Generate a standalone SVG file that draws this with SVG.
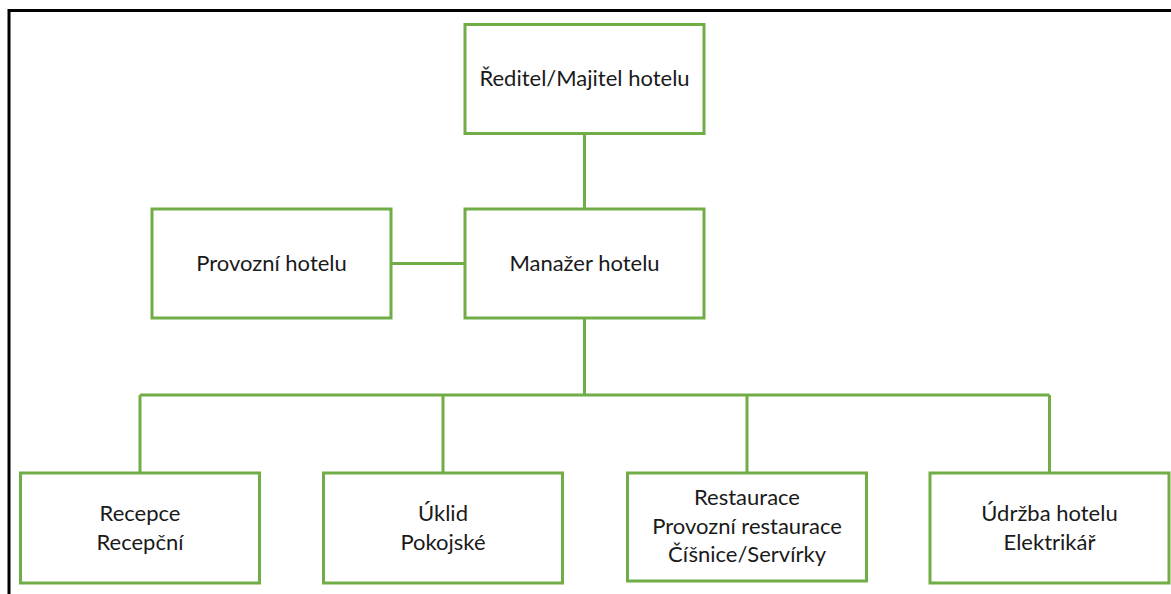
<svg xmlns="http://www.w3.org/2000/svg" width="1171" height="594" viewBox="0 0 1171 594">
<style>
.box{fill:#fff;stroke:#70AD47;stroke-width:3}
.conn{fill:none;stroke:#70AD47;stroke-width:3}
.t{font-family:Lato,"Liberation Sans",Arial,sans-serif;font-size:22px;fill:#1a1a1a;text-anchor:middle}
</style>
<rect x="0" y="0" width="1171" height="594" fill="#fff"/>
<path d="M9 594 V10.5 H1171" fill="none" stroke="#000" stroke-width="3"/>
<g id="connectors">
<path class="conn" d="M584.5 133 V209"/>
<path class="conn" d="M391 263.5 H464"/>
<path class="conn" d="M584.5 318 V395"/>
<path class="conn" d="M140 395 H1049.5"/>
<path class="conn" d="M140 395 V473"/>
<path class="conn" d="M443 395 V473"/>
<path class="conn" d="M747 395 V473"/>
<path class="conn" d="M1049.5 395 V473"/>
</g>
<g id="node-reditel">
<rect class="box" x="465" y="24.5" width="239" height="109"/>
<text class="t" x="584.5" y="86">Ředitel/Majitel hotelu</text>
</g>
<g id="node-provozni">
<rect class="box" x="152" y="209" width="239" height="109"/>
<text class="t" x="271.5" y="271">Provozní hotelu</text>
</g>
<g id="node-manazer">
<rect class="box" x="465" y="209" width="239" height="109"/>
<text class="t" x="584.5" y="271">Manažer hotelu</text>
</g>
<g id="node-recepce">
<rect class="box" x="20.5" y="473" width="239" height="110"/>
<text class="t" x="140" y="521">Recepce</text>
<text class="t" x="140" y="550">Recepční</text>
</g>
<g id="node-uklid">
<rect class="box" x="323.5" y="473" width="239" height="110"/>
<text class="t" x="443" y="521">Úklid</text>
<text class="t" x="443" y="550">Pokojské</text>
</g>
<g id="node-restaurace">
<rect class="box" x="627.5" y="473" width="239" height="108"/>
<text class="t" x="747" y="505">Restaurace</text>
<text class="t" x="747" y="534">Provozní restaurace</text>
<text class="t" x="747" y="562">Číšnice/Servírky</text>
</g>
<g id="node-udrzba">
<rect class="box" x="930" y="473" width="239" height="110"/>
<text class="t" x="1049.5" y="521">Údržba hotelu</text>
<text class="t" x="1049.5" y="550">Elektrikář</text>
</g>
</svg>
